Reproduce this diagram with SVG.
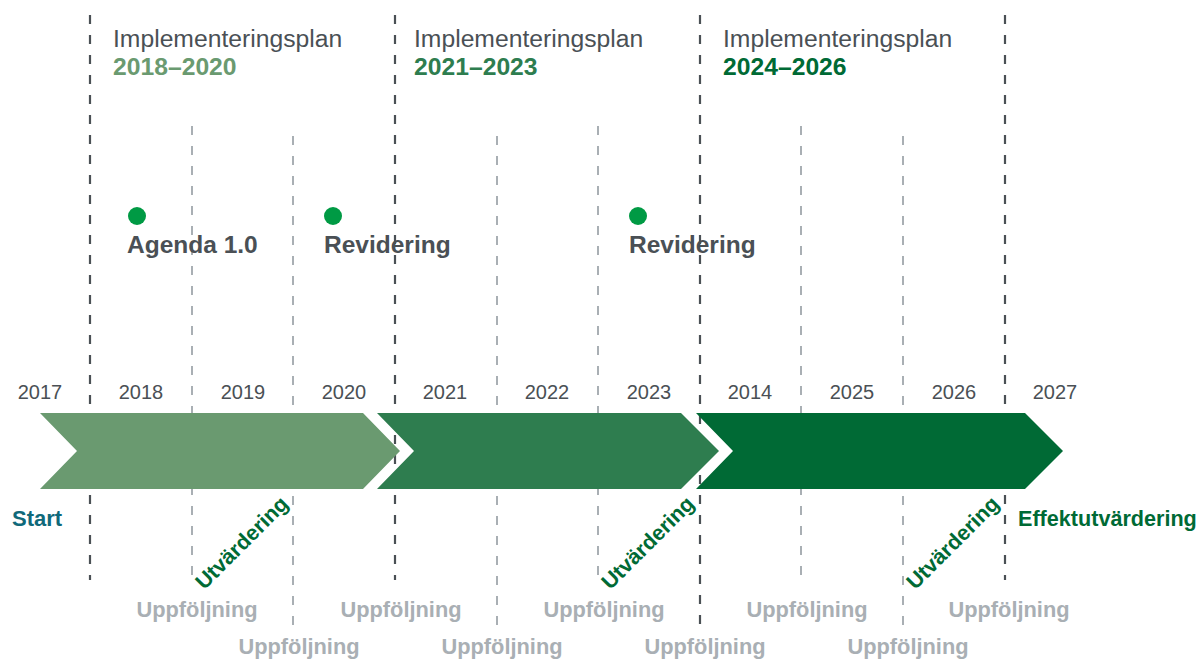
<svg xmlns="http://www.w3.org/2000/svg" width="1200" height="659" viewBox="0 0 1200 659">
<style>
  text { font-family: "Liberation Sans", Arial, sans-serif; }
  .dark { stroke: #4a5055; stroke-width: 2.2; stroke-dasharray: 9 11; fill: none; }
  .light { stroke: #a9afb4; stroke-width: 2; stroke-dasharray: 9 11; fill: none; }
  .plan { font-size: 24.7px; fill: #4a5055; }
  .period { font-size: 24.7px; font-weight: bold; }
  .year { font-size: 20px; fill: #4a5055; text-anchor: middle; }
  .milestone { font-size: 24.5px; font-weight: bold; fill: #4a5055; }
  .dot { fill: #009a44; }
  .utv { font-size: 21.5px; font-weight: bold; fill: #006a35; text-anchor: middle; }
  .upp { font-size: 21.8px; font-weight: bold; fill: #a9afb4; text-anchor: middle; }
  .c1 { fill: #6a9a70; }
  .c2 { fill: #2e7d4f; }
  .c3 { fill: #006a35; }
</style>
<rect width="1200" height="659" fill="#ffffff"/>

<g id="connectors">
  <line class="dark" x1="90" y1="15" x2="90" y2="580"/>
  <line class="dark" x1="395" y1="15" x2="395" y2="580"/>
  <line class="dark" x1="700" y1="15" x2="700" y2="630"/>
  <line class="dark" x1="1005" y1="15" x2="1005" y2="580"/>
  <line class="light" x1="192" y1="126" x2="192" y2="582"/>
  <line class="light" x1="293" y1="136" x2="293" y2="630"/>
  <line class="light" x1="497" y1="136" x2="497" y2="630"/>
  <line class="light" x1="598" y1="126" x2="598" y2="582"/>
  <line class="light" x1="801" y1="126" x2="801" y2="582"/>
  <line class="light" x1="903" y1="136" x2="903" y2="630"/>
</g>

<g id="plan1">
  <text class="plan" x="113" y="47">Implementeringsplan</text>
  <text class="period" x="113" y="75" fill="#6a9a70">2018–2020</text>
</g>
<g id="plan2">
  <text class="plan" x="414" y="47">Implementeringsplan</text>
  <text class="period" x="414" y="75" fill="#2e7d4f">2021–2023</text>
</g>
<g id="plan3">
  <text class="plan" x="723" y="47">Implementeringsplan</text>
  <text class="period" x="723" y="75" fill="#006a35">2024–2026</text>
</g>

<g id="milestone-agenda">
  <circle class="dot" cx="137" cy="216" r="9"/>
  <text class="milestone" x="127" y="253">Agenda 1.0</text>
</g>
<g id="milestone-revidering1">
  <circle class="dot" cx="333" cy="216" r="9"/>
  <text class="milestone" x="324" y="253">Revidering</text>
</g>
<g id="milestone-revidering2">
  <circle class="dot" cx="638" cy="216" r="9"/>
  <text class="milestone" x="629" y="253">Revidering</text>
</g>

<g id="years">
  <text class="year" x="40" y="399">2017</text>
  <text class="year" x="141" y="399">2018</text>
  <text class="year" x="243" y="399">2019</text>
  <text class="year" x="344" y="399">2020</text>
  <text class="year" x="445" y="399">2021</text>
  <text class="year" x="547" y="399">2022</text>
  <text class="year" x="649" y="399">2023</text>
  <text class="year" x="750" y="399">2014</text>
  <text class="year" x="852" y="399">2025</text>
  <text class="year" x="954" y="399">2026</text>
  <text class="year" x="1055" y="399">2027</text>
</g>

<g id="phase1">
  <polygon class="c1" points="40,413 363,413 400,451 363,489 40,489 77,451"/>
</g>
<g id="phase2">
  <polygon class="c2" points="377,413 681,413 719,451 681,489 377,489 414,451"/>
</g>
<g id="phase3">
  <polygon class="c3" points="696,413 1025,413 1063,451 1025,489 696,489 733,451"/>
</g>

<g id="start">
  <text x="12" y="526" font-size="22" font-weight="bold" fill="#10697a">Start</text>
</g>
<g id="effekt">
  <text x="1018" y="526" font-size="21.6" font-weight="bold" fill="#006a35">Effektutvärdering</text>
</g>

<g id="utv1"><text class="utv" transform="translate(242,543) rotate(-45)" dy="7">Utvärdering</text></g>
<g id="utv2"><text class="utv" transform="translate(648,543) rotate(-45)" dy="7">Utvärdering</text></g>
<g id="utv3"><text class="utv" transform="translate(953,543) rotate(-45)" dy="7">Utvärdering</text></g>

<g id="uppfoljning">
  <text class="upp" x="197" y="617">Uppföljning</text>
  <text class="upp" x="401" y="617">Uppföljning</text>
  <text class="upp" x="604" y="617">Uppföljning</text>
  <text class="upp" x="807" y="617">Uppföljning</text>
  <text class="upp" x="1009" y="617">Uppföljning</text>
  <text class="upp" x="299" y="654">Uppföljning</text>
  <text class="upp" x="502" y="654">Uppföljning</text>
  <text class="upp" x="705" y="654">Uppföljning</text>
  <text class="upp" x="908" y="654">Uppföljning</text>
</g>
</svg>
